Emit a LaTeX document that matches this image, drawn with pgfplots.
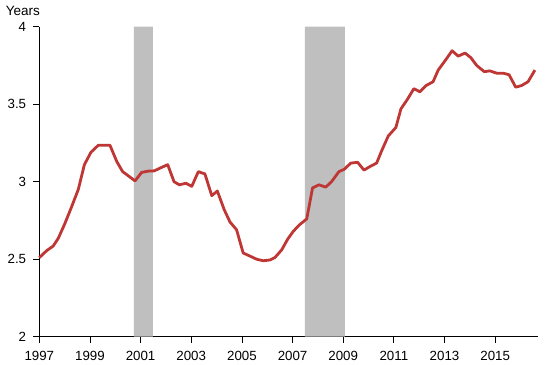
\documentclass[border=0pt]{standalone}
\usepackage{fontspec}
\setmainfont{Liberation Sans}
\usepackage{pgfplots}
\pgfplotsset{compat=1.18}
\definecolor{lineRed}{RGB}{190,55,52}
\definecolor{recGray}{RGB}{191,191,191}
\begin{document}
\begin{tikzpicture}
\useasboundingbox (0,0) rectangle (550bp,365bp);
\begin{axis}[
  at={(39.3bp,28.3bp)}, anchor=south west,
  scale only axis, width=498.4bp, height=310bp,
  xmin=1997, xmax=2016.68, ymin=2, ymax=4,
  axis x line=bottom, axis y line=left,
  axis line style={-, black, line width=0.8bp},
  xtick={1997,1999,2001,2003,2005,2007,2009,2011,2013,2015},
  xticklabels={1997,1999,2001,2003,2005,2007,2009,2011,2013,2015},
  ytick={2,2.5,3,3.5,4},
  yticklabels={2,2.5,3,3.5,4},
  tick align=outside, major tick length=6bp,
  tick style={black, line width=0.8bp},
  ticklabel style={font=\fontsize{13.3bp}{15bp}\selectfont, inner sep=0pt},
  xticklabel style={yshift=-8bp},
  yticklabel style={xshift=-7bp},
  ylabel={Years},
  ylabel style={rotate=-90, at={(rel axis cs:0,1)}, anchor=base west, inner sep=0pt, xshift=-33.6bp, yshift=11bp, font=\fontsize{13.5bp}{15bp}\selectfont},
  clip=false,
]
\addplot[fill=recGray, draw=none] coordinates {(2000.73,2) (2000.73,4) (2001.48,4) (2001.48,2)} \closedcycle;
\addplot[fill=recGray, draw=none] coordinates {(2007.49,2) (2007.49,4) (2009.07,4) (2009.07,2)} \closedcycle;
\addplot[lineRed, line width=2.8bp, line join=round] coordinates {
(1997.00,2.51) (1997.29,2.555) (1997.55,2.585) (1997.75,2.635)
(1998.01,2.73) (1998.28,2.84) (1998.54,2.95) (1998.78,3.11)
(1999.04,3.19) (1999.33,3.235) (1999.57,3.235) (1999.79,3.235)
(2000.06,3.13) (2000.29,3.065) (2000.54,3.035) (2000.78,3.005)
(2001.04,3.06) (2001.29,3.068) (2001.54,3.07) (2001.80,3.09)
(2002.07,3.11) (2002.32,3.00) (2002.53,2.98) (2002.79,2.99)
(2003.02,2.97) (2003.28,3.065) (2003.54,3.05) (2003.81,2.91)
(2004.03,2.94) (2004.30,2.82) (2004.53,2.74) (2004.79,2.69)
(2005.05,2.54) (2005.32,2.52) (2005.58,2.50) (2005.84,2.49)
(2006.11,2.495) (2006.30,2.51) (2006.57,2.56) (2006.81,2.63)
(2007.03,2.68) (2007.26,2.72) (2007.56,2.76) (2007.79,2.96)
(2008.04,2.98) (2008.31,2.965) (2008.54,3.00) (2008.83,3.065)
(2009.04,3.08) (2009.30,3.12) (2009.57,3.125) (2009.82,3.075)
(2010.08,3.10) (2010.32,3.12) (2010.52,3.20) (2010.78,3.295)
(2011.08,3.35) (2011.28,3.47) (2011.53,3.53) (2011.79,3.60)
(2012.03,3.58) (2012.27,3.62) (2012.55,3.645) (2012.75,3.72)
(2013.02,3.78) (2013.30,3.845) (2013.54,3.81) (2013.81,3.83)
(2014.04,3.80) (2014.27,3.75) (2014.57,3.71) (2014.79,3.715)
(2015.06,3.70) (2015.32,3.70) (2015.55,3.69) (2015.81,3.61)
(2016.04,3.62) (2016.30,3.645) (2016.57,3.72)
};
\end{axis}
\end{tikzpicture}
\end{document}
